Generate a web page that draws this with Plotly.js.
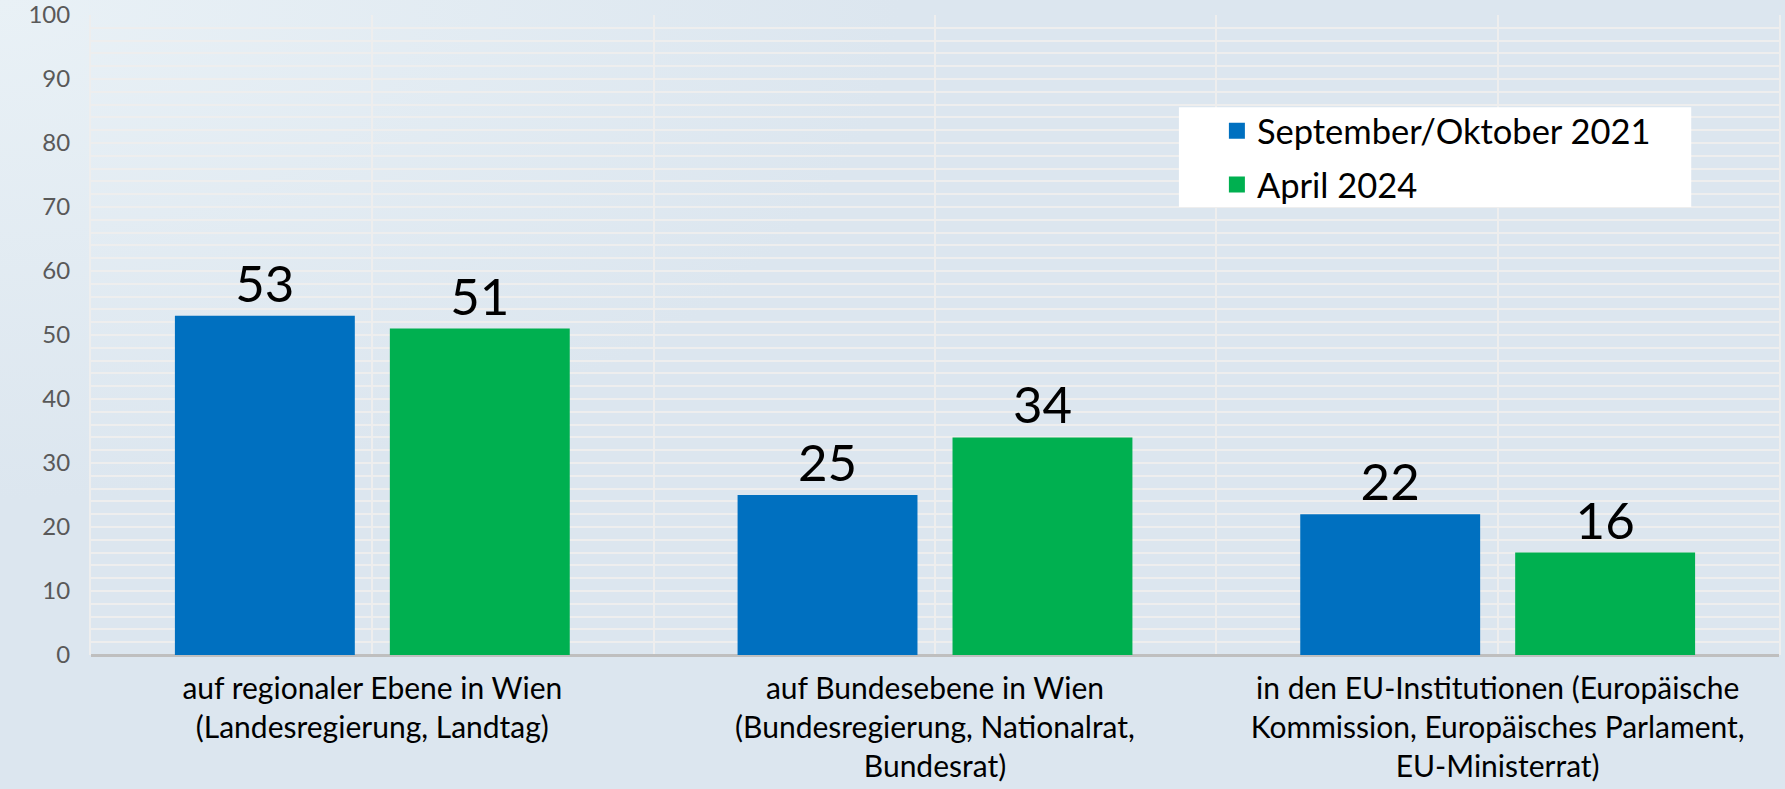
<!DOCTYPE html>
<html>
<head>
<meta charset="utf-8">
<script src="https://cdn.plot.ly/plotly-3.0.1.min.js"></script>
<style>
  html, body { margin: 0; padding: 0; }
  body { width: 1785px; height: 789px; overflow: hidden;
    background: radial-gradient(ellipse 900px 500px at 0px 0px, #e9f1f6 0%, #dce6ef 100%), #dce6ef; }
  #chart { width: 1785px; height: 789px; }
</style>
</head>
<body>
<div id="chart"></div>
<script>
const categories = [
  "auf regionaler Ebene in Wien<br>(Landesregierung, Landtag)",
  "auf Bundesebene in Wien<br>(Bundesregierung, Nationalrat,<br>Bundesrat)",
  "in den EU-Institutionen (Europäische<br>Kommission, Europäisches Parlament,<br>EU-Ministerrat)"
];
const seriesNames = ["September/Oktober 2021", "April 2024"];
const seriesColors = ["#0070c0", "#00b050"];
const values2021 = [53, 25, 22];
const values2024 = [51, 34, 16];
const yTickVals = [0, 10, 20, 30, 40, 50, 60, 70, 80, 90, 100];

const FONT = "Lato, 'Open Sans', sans-serif";
const gridCol = "#eeeeee";

function barTrace(name, values, color) {
  return { type: "bar", name: name, x: categories, y: values,
    marker: { color: color }, text: values.map(String), textposition: "outside",
    textfont: { size: 51, color: "#000000", family: FONT }, cliponaxis: false,
    showlegend: false, hoverinfo: "none" };
}
function legendTrace(name, color, group) {
  return { type: "scatter", mode: "markers", name: name, x: [null], y: [null],
    xaxis: "x2", yaxis: "y",
    marker: { symbol: "square", size: 19, color: color },
    legendgroup: group, showlegend: true, hoverinfo: "none" };
}

const traces = [
  barTrace(seriesNames[0], values2021, seriesColors[0]),
  barTrace(seriesNames[1], values2024, seriesColors[1]),
  legendTrace(seriesNames[0], seriesColors[0], "a"),
  legendTrace(seriesNames[1], seriesColors[1], "b")
];

const layout = {
  width: 1785, height: 789,
  margin: { l: 91, r: 6, t: 15, b: 134, pad: 0 },
  paper_bgcolor: "rgba(0,0,0,0)",
  plot_bgcolor: "rgba(0,0,0,0)",
  font: { family: FONT, color: "#000000" },
  barmode: "group",
  bargap: 0.236,
  bargroupgap: 0.163,
  showlegend: true,
  legend: {
    x: 0.667, xanchor: "left", y: 0.8645, yanchor: "top",
    bgcolor: "rgba(0,0,0,0)", borderwidth: 0,
    font: { size: 34.5, color: "#000000", family: FONT },
    traceorder: "grouped", tracegroupgap: 6,
    itemwidth: 30
  },
  shapes: [{
    type: "rect", xref: "paper", yref: "paper", layer: "above",
    x0: 0.6445, x1: 0.948, y0: 0.700, y1: 0.856,
    fillcolor: "#ffffff", line: { width: 0 }
  }],
  xaxis: {
    type: "category",
    tickson: "boundaries",
    showgrid: true, gridcolor: gridCol, gridwidth: 2,
    ticks: "", ticklen: 0,
    tickfont: { size: 30, color: "#000000", family: FONT },
    ticklabelstandoff: 13,
    showline: false, zeroline: false
  },
  xaxis2: {
    overlaying: "x", anchor: "y", range: [-0.5, 2.5],
    tickvals: [0, 1, 2], showticklabels: false, ticks: "",
    showgrid: true, gridcolor: gridCol, gridwidth: 2,
    zeroline: false, showline: false, fixedrange: true
  },
  yaxis: {
    range: [0, 100], tickvals: yTickVals, ticks: "",
    showgrid: true, gridcolor: gridCol, gridwidth: 2,
    minor: { dtick: 2, showgrid: true, gridcolor: gridCol, gridwidth: 2, ticks: "" },
    tickfont: { size: 24, color: "#595959", family: FONT },
    ticklabelstandoff: 14,
    ticklabeloverflow: "allow",
    zeroline: true, zerolinecolor: "#bfbfbf", zerolinewidth: 3,
    showline: true, mirror: true, linecolor: gridCol, linewidth: 2
  }
};

Plotly.newPlot("chart", traces, layout, { staticPlot: true, displayModeBar: false });
</script>
</body>
</html>
